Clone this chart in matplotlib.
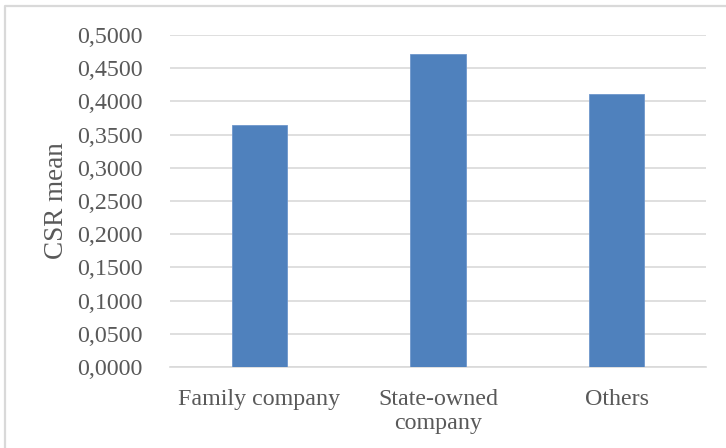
import matplotlib.pyplot as plt
from matplotlib.lines import Line2D
from matplotlib.ticker import FuncFormatter, MultipleLocator

categories = ['Family company', 'State-owned\ncompany', 'Others']
csr_mean = [0.3642, 0.4721, 0.4115]

plt.rcParams['font.family'] = ['Liberation Serif', 'DejaVu Serif']

fig = plt.figure(figsize=(7.26, 4.48), dpi=100)
ax = fig.add_axes([0.2342, 0.1808, 0.7383, 0.7411])

x = range(len(categories))
ax.bar(x, csr_mean, width=0.31, color='#4F81BD', edgecolor='#6F97CC',
       linewidth=0.6, zorder=3)

ax.set_xlim(-0.5, len(categories) - 0.5)
ax.set_ylim(0, 0.5)
ax.yaxis.set_major_locator(MultipleLocator(0.05))
ax.yaxis.set_major_formatter(FuncFormatter(lambda v, _: f'{v:.4f}'.replace('.', ',')))
ax.set_xticks(list(x))
ax.set_xticklabels(categories, linespacing=1.2)

ax.grid(axis='y', color='#D9D9D9', linewidth=1.2, zorder=0)
for s in ['top', 'right', 'left']:
    ax.spines[s].set_visible(False)
ax.spines['bottom'].set_color('#D9D9D9')
ax.spines['bottom'].set_linewidth(1.2)

ax.tick_params(axis='both', length=0, labelsize=17.3, colors='#595959')
ax.tick_params(axis='y', pad=20)
ax.tick_params(axis='x', pad=16)

ax.set_ylabel('CSR mean', fontsize=19.5, color='#595959', va='center')
ax.yaxis.set_label_coords((56 - 170) / 536, (367 - 201) / 332)

# chart-area border: only its top and left edges fall inside the image
fx, fy = 5 / 726, 1 - 6.5 / 448
fig.add_artist(Line2D([fx, fx, 1.01], [-0.01, fy, fy], transform=fig.transFigure,
                      color='#D9D9D9', linewidth=1.6))

fig.savefig('out.png', dpi=100)
